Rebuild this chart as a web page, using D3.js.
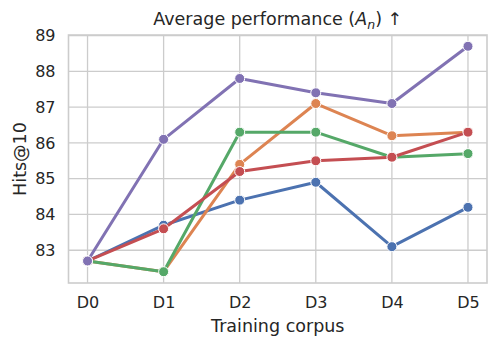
<!DOCTYPE html>
<html>
<head>
<meta charset="utf-8">
<script src="https://cdn.jsdelivr.net/npm/d3@7"></script>
<style>
  body { margin: 0; background: #fff; }
  text { font-family: "DejaVu Sans", sans-serif; fill: #262626; }
</style>
</head>
<body>
<svg></svg>
<script>
var width = 498;
var height = 348;

// data
var corpora = ["D0", "D1", "D2", "D3", "D4", "D5"];
var blueSeries   = [82.7, 83.7, 84.4, 84.9, 83.1, 84.2];
var orangeSeries = [82.7, 82.4, 85.4, 87.1, 86.2, 86.3];
var greenSeries  = [82.7, 82.4, 86.3, 86.3, 85.6, 85.7];
var redSeries    = [82.7, 83.6, 85.2, 85.5, 85.6, 86.3];
var purpleSeries = [82.7, 86.1, 87.8, 87.4, 87.1, 88.7];
var yTicks = [83, 84, 85, 86, 87, 88, 89];

var series = [
  {values: blueSeries,   color: "#4C72B0"},
  {values: orangeSeries, color: "#DD8452"},
  {values: greenSeries,  color: "#55A868"},
  {values: redSeries,    color: "#C44E52"},
  {values: purpleSeries, color: "#8172B3"}
];

var margin = {top: 35, right: 11, bottom: 65, left: 68.5};

var svg = d3.select("svg")
    .attr("width", width)
    .attr("height", height);

var x = d3.scaleLinear()
    .domain([-0.25, corpora.length - 0.75])
    .range([margin.left, width - margin.right]);

var allVals = d3.merge(series.map(function(s) { return s.values; }));
var yMin = d3.min(allVals), yMax = d3.max(allVals);
var pad = (yMax - yMin) * 0.05;
var y = d3.scaleLinear()
    .domain([yMin - pad, yMax + pad])
    .range([height - margin.bottom, margin.top]);

// grid
var grid = svg.append("g");
grid.selectAll("line.vg")
    .data(corpora)
    .enter()
    .append("line")
    .attr("x1", function(d, i) { return x(i); })
    .attr("x2", function(d, i) { return x(i); })
    .attr("y1", margin.top)
    .attr("y2", height - margin.bottom)
    .style("stroke", "#cccccc")
    .style("stroke-width", 1.3);
grid.selectAll("line.hg")
    .data(yTicks)
    .enter()
    .append("line")
    .attr("x1", margin.left)
    .attr("x2", width - margin.right)
    .attr("y1", function(d) { return y(d); })
    .attr("y2", function(d) { return y(d); })
    .style("stroke", "#cccccc")
    .style("stroke-width", 1.3);

// axes (no tick marks, like seaborn whitegrid)
var xAxis = svg.append("g")
    .attr("transform", "translate(0," + (height - margin.bottom) + ")")
    .call(d3.axisBottom(x).tickValues(d3.range(corpora.length))
        .tickFormat(function(d) { return corpora[d]; })
        .tickSize(0).tickPadding(14));
var yAxis = svg.append("g")
    .attr("transform", "translate(" + margin.left + ",0)")
    .call(d3.axisLeft(y).tickValues(yTicks).tickFormat(d3.format("d"))
        .tickSize(0).tickPadding(13));
[xAxis, yAxis].forEach(function(a) {
  a.select(".domain").remove();
  a.selectAll("text")
      .style("font-size", "16px")
      .style("font-family", "DejaVu Sans")
      .style("fill", "#262626");
});

// frame
svg.append("rect")
    .attr("x", margin.left)
    .attr("y", margin.top)
    .attr("width", width - margin.right - margin.left)
    .attr("height", height - margin.bottom - margin.top)
    .style("fill", "none")
    .style("stroke", "#cccccc")
    .style("stroke-width", 1.6);

// lines and markers
var line = d3.line()
    .x(function(d, i) { return x(i); })
    .y(function(d) { return y(d); });

series.forEach(function(s) {
  svg.append("path")
      .datum(s.values)
      .attr("d", line)
      .style("fill", "none")
      .style("stroke", s.color)
      .style("stroke-width", 3)
      .style("stroke-linecap", "round")
      .style("stroke-linejoin", "round");
  svg.append("g")
      .selectAll("circle")
      .data(s.values)
      .enter()
      .append("circle")
      .attr("cx", function(d, i) { return x(i); })
      .attr("cy", function(d) { return y(d); })
      .attr("r", 5)
      .style("fill", s.color)
      .style("stroke", "#ffffff")
      .style("stroke-width", 1);
});

// labels
var title = svg.append("text")
    .attr("x", (margin.left + width - margin.right) / 2)
    .attr("y", 25)
    .attr("text-anchor", "middle")
    .style("font-size", "17.5px");
title.append("tspan").text("Average performance (");
title.append("tspan").style("font-style", "italic").text("A");
title.append("tspan").attr("dy", 4).style("font-size", "12.5px").style("font-style", "italic").text("n");
title.append("tspan").attr("dy", -4).text(") \u2191");

svg.append("text")
    .attr("x", (margin.left + width - margin.right) / 2)
    .attr("y", 332)
    .attr("text-anchor", "middle")
    .style("font-size", "17.5px")
    .text("Training corpus");

svg.append("text")
    .attr("transform", "translate(25.5," + ((margin.top + height - margin.bottom) / 2) + ") rotate(-90)")
    .attr("text-anchor", "middle")
    .style("font-size", "17.5px")
    .text("Hits@10");
</script>
</body>
</html>
